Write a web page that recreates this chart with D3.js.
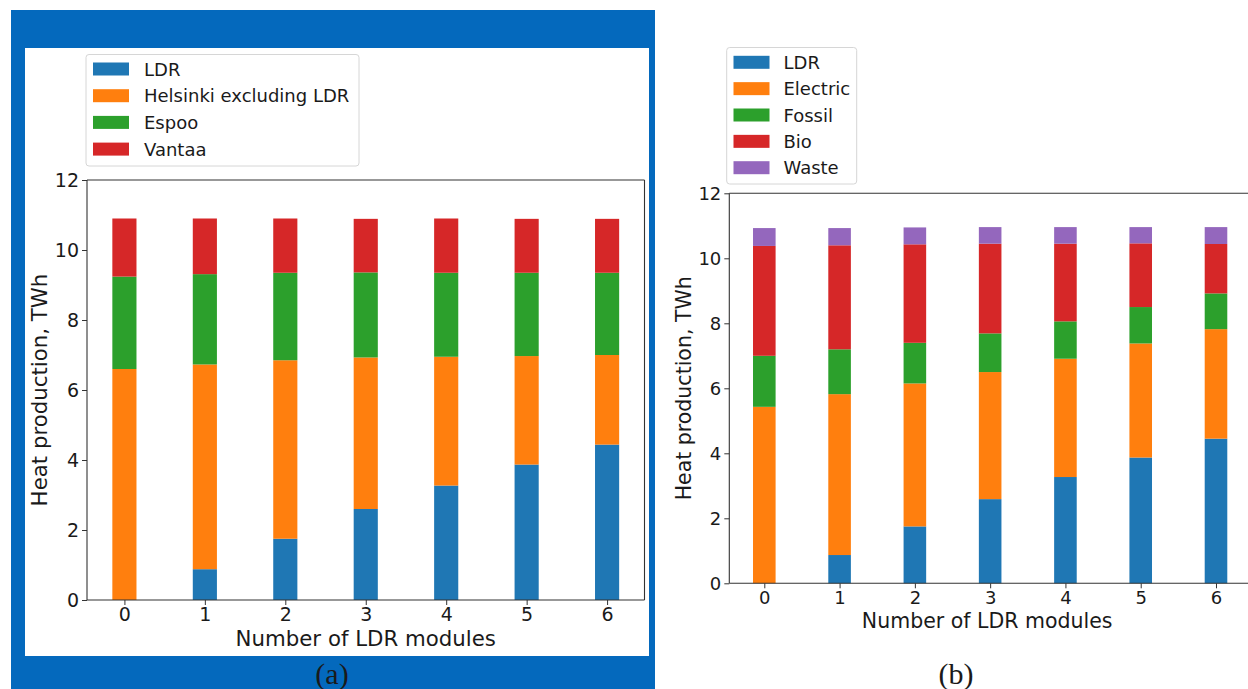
<!DOCTYPE html>
<html>
<head>
<meta charset="utf-8">
<script src="https://cdn.jsdelivr.net/npm/d3@7"></script>
<style>
  html, body { margin: 0; padding: 0; background: #ffffff; }
  svg { display: block; }
  text { font-family: "DejaVu Sans", sans-serif; fill: #1a1a1a; }
</style>
</head>
<body>
<svg id="chart" width="1248" height="689"></svg>
<script>
// ---------- DATA ----------
const modules = [0, 1, 2, 3, 4, 5, 6];
const yTicks = [0, 2, 4, 6, 8, 10, 12];

// Panel (a): heat production by area, TWh
const aSeriesNames = ["LDR", "Helsinki excluding LDR", "Espoo", "Vantaa"];
const aLDR      = [0.00, 0.88, 1.75, 2.60, 3.27, 3.87, 4.44];
const aHelsinki = [6.60, 5.85, 5.10, 4.33, 3.68, 3.10, 2.56];
const aEspoo    = [2.64, 2.58, 2.50, 2.43, 2.40, 2.38, 2.35];
const aVantaa   = [1.66, 1.59, 1.55, 1.53, 1.55, 1.54, 1.54];

// Panel (b): heat production by source, TWh
const bSeriesNames = ["LDR", "Electric", "Fossil", "Bio", "Waste"];
const bLDR      = [0.00, 0.87, 1.75, 2.59, 3.27, 3.87, 4.45];
const bElectric = [5.43, 4.95, 4.40, 3.91, 3.64, 3.51, 3.37];
const bFossil   = [1.57, 1.38, 1.25, 1.19, 1.15, 1.12, 1.10];
const bBio      = [3.38, 3.20, 3.03, 2.76, 2.39, 1.96, 1.52];
const bWaste    = [0.55, 0.53, 0.52, 0.51, 0.51, 0.50, 0.52];

const palette = ["#1f77b4", "#ff7f0e", "#2ca02c", "#d62728", "#9467bd"];
const xLabel = "Number of LDR modules";
const yLabel = "Heat production, TWh";

// ---------- DRAW ----------
const svg = d3.select("#chart");

// Panel (a) background frame
svg.append("rect").attr("x", 11).attr("y", 10).attr("width", 644).attr("height", 679).attr("fill", "#0469bd");
svg.append("rect").attr("x", 25).attr("y", 48).attr("width", 624).attr("height", 608).attr("fill", "#ffffff");

function drawChart(cfg) {
  const g = svg.append("g");
  const x = d3.scaleLinear().domain([-0.465, 6.465]).range([cfg.left, cfg.right]);
  const y = d3.scaleLinear().domain([0, 12]).range([cfg.bottom, cfg.top]);
  const barW = x(0.3) - x(0);

  const rows = modules.map((m, i) => {
    const r = { m };
    cfg.names.forEach((n, k) => r[n] = cfg.series[k][i]);
    return r;
  });
  const stacked = d3.stack().keys(cfg.names)(rows);

  stacked.forEach((layer, k) => {
    g.append("g").selectAll("rect").data(layer).join("rect")
      .attr("x", d => x(d.data.m) - barW / 2)
      .attr("width", barW)
      .attr("y", d => y(d[1]))
      .attr("height", d => Math.max(0, y(d[0]) - y(d[1])))
      .attr("fill", palette[k]);
  });

  // axes
  const xa = g.append("g").attr("transform", `translate(0,${cfg.bottom})`)
    .call(d3.axisBottom(x).tickValues(modules).tickFormat(d3.format("d")).tickSize(5).tickSizeOuter(0).tickPadding(3));
  const ya = g.append("g").attr("transform", `translate(${cfg.left},0)`)
    .call(d3.axisLeft(y).tickValues(yTicks).tickFormat(d3.format("d")).tickSize(5).tickSizeOuter(0).tickPadding(3));
  [xa, ya].forEach(a => {
    a.select(".domain").remove();
    a.selectAll("line").attr("stroke", "#333").attr("stroke-width", 1);
    a.selectAll("text").style("font-size", cfg.tickFont + "px").attr("fill", "#1a1a1a");
  });

  // spines
  const box = g.append("g").attr("fill", "none").attr("stroke", "#333").attr("stroke-width", 1.1);
  box.append("line").attr("x1", cfg.left).attr("x2", cfg.left).attr("y1", cfg.top).attr("y2", cfg.bottom);
  box.append("line").attr("x1", cfg.left).attr("x2", cfg.right).attr("y1", cfg.bottom).attr("y2", cfg.bottom);
  box.append("line").attr("x1", cfg.left).attr("x2", cfg.right).attr("y1", cfg.top).attr("y2", cfg.top);
  box.append("line").attr("x1", cfg.right).attr("x2", cfg.right).attr("y1", cfg.top).attr("y2", cfg.bottom);

  // labels
  g.append("text").attr("x", (cfg.left + Math.min(cfg.right, 1248 + 4)) / 2 + cfg.xLabelDx).attr("y", cfg.xLabelY)
    .attr("text-anchor", "middle").attr("dominant-baseline", "central")
    .style("font-size", cfg.labelFont + "px").text(xLabel);
  g.append("text").attr("transform", `translate(${cfg.yLabelX},${(cfg.top + cfg.bottom) / 2}) rotate(-90)`)
    .attr("text-anchor", "middle").attr("dominant-baseline", "central")
    .style("font-size", cfg.labelFont + "px").text(yLabel);

  // legend
  const lg = g.append("g");
  lg.append("rect").attr("x", cfg.leg.x).attr("y", cfg.leg.y).attr("width", cfg.leg.w).attr("height", cfg.leg.h)
    .attr("rx", 3).attr("fill", "#fff").attr("stroke", "#d6d6d6").attr("stroke-width", 1);
  cfg.names.forEach((n, k) => {
    const cy = cfg.leg.y0 + k * cfg.leg.dy;
    lg.append("rect").attr("x", cfg.leg.sx).attr("y", cy - 6.5).attr("width", 36).attr("height", 13).attr("fill", palette[k]);
    lg.append("text").attr("x", cfg.leg.tx).attr("y", cy).attr("dominant-baseline", "central")
      .style("font-size", "18px").text(n);
  });
}

drawChart({
  left: 87, right: 644.5, top: 180, bottom: 600,
  names: aSeriesNames, series: [aLDR, aHelsinki, aEspoo, aVantaa],
  tickFont: 19, labelFont: 21.3, xLabelY: 638, xLabelDx: 0, yLabelX: 39,
  leg: { x: 86, y: 54.5, w: 273, h: 111.5, y0: 69, dy: 26.7, sx: 93, tx: 144 }
});

drawChart({
  left: 729.3, right: 1251, top: 193.3, bottom: 583.3,
  names: bSeriesNames, series: [bLDR, bElectric, bFossil, bBio, bWaste],
  tickFont: 18, labelFont: 20.5, xLabelY: 621, xLabelDx: -3, yLabelX: 684,
  leg: { x: 726.7, y: 47.5, w: 130, h: 136.5, y0: 62.3, dy: 26.35, sx: 733.5, tx: 783.5 }
});

// captions
svg.append("text").attr("x", 332).attr("y", 673).attr("text-anchor", "middle").attr("dominant-baseline", "central")
  .style("font-family", "'Liberation Serif', 'DejaVu Serif', serif").style("font-size", "30px").attr("fill", "#111").text("(a)");
svg.append("text").attr("x", 956).attr("y", 673).attr("text-anchor", "middle").attr("dominant-baseline", "central")
  .style("font-family", "'Liberation Serif', 'DejaVu Serif', serif").style("font-size", "30px").attr("fill", "#111").text("(b)");
</script>
</body>
</html>
